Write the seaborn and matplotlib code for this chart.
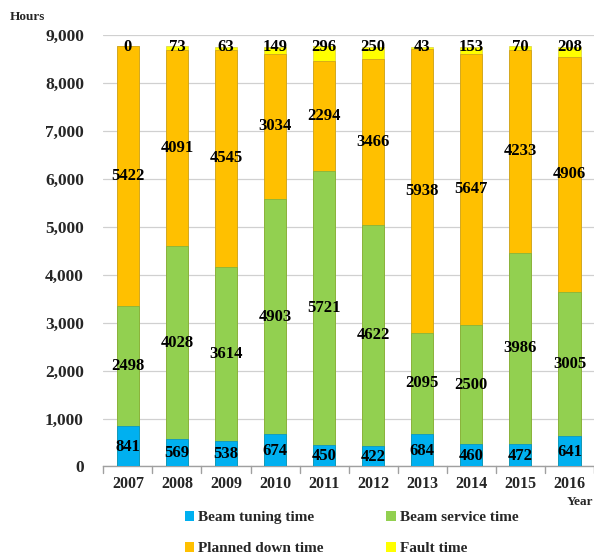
import matplotlib
matplotlib.use("Agg")
import matplotlib.pyplot as plt
import seaborn as sns
import numpy as np
import pandas as pd
from matplotlib.patches import Patch

years = ["2007", "2008", "2009", "2010", "2011", "2012", "2013", "2014", "2015", "2016"]
tuning = [841, 569, 538, 674, 450, 422, 684, 460, 472, 641]
service = [2498, 4028, 3614, 4903, 5721, 4622, 2095, 2500, 3986, 3005]
planned = [5422, 4091, 4545, 3034, 2294, 3466, 5938, 5647, 4233, 4906]
fault = [0, 73, 63, 149, 296, 250, 43, 153, 70, 208]
series_names = ["Beam tuning time", "Beam service time", "Planned down time", "Fault time"]
colors = ["#00B0F0", "#92D050", "#FFC000", "#FFFF00"]

sns.set_theme(style="white")
plt.rcParams['font.family'] = ['Liberation Serif', 'DejaVu Serif']
plt.rcParams['font.weight'] = 'bold'

fig = plt.figure(figsize=(5.94, 5.56), dpi=100)
ax = fig.add_axes([0.174, 0.161, 0.826, 0.776])

layers = [tuning, service, planned, fault]
cum = np.cumsum(np.array(layers), axis=0)
df = pd.DataFrame({"year": years})
for i in range(4):
    df[f"c{i}"] = cum[i]

edge_cols = ["#0090C8", "#7AB040", "#C89A20", "#D8D040"]
for i in range(3, -1, -1):
    sns.barplot(data=df, x="year", y=f"c{i}", color=colors[i], saturation=1,
                width=0.45, ax=ax, edgecolor=edge_cols[i],
                linewidth=0.5, zorder=3)

for i in range(4):
    bottoms = cum[i] - np.array(layers[i])
    for j, y in enumerate(years):
        mid = bottoms[j] + layers[i][j] / 2
        if i == 3:
            mid = cum[i][j] - 20
        if i == 0:
            mid = layers[i][j] / 2 - 10
        ax.text(j, mid, str(layers[i][j]), ha="center", va="center",
                fontsize=12, fontweight="bold", color="black", zorder=5)

ax.set_ylim(0, 9000)
ax.set_xlim(-0.5, 9.5)
ax.set_yticks(range(0, 9001, 1000))
ax.set_yticklabels([f"{v:,}" for v in range(0, 9001, 1000)], fontsize=12.5, fontweight="bold")
ax.set_xticks(range(10))
ax.set_xticklabels(years, fontsize=11.5, fontweight="bold")
ax.set_xlabel("")
ax.set_ylabel("")
ax.yaxis.grid(True, color="#D0D0D0", linewidth=0.9, zorder=0)
ax.set_axisbelow(True)
for s in ["left", "right", "top"]:
    ax.spines[s].set_visible(False)
ax.spines["bottom"].set_color("#A0A0A0")
ax.spines["bottom"].set_linewidth(1.0)
ax.tick_params(axis="y", length=0, pad=14)
ax.tick_params(axis="x", length=0, pad=7)
for k in range(11):
    ax.plot([k - 0.5, k - 0.5], [0, -130], color="#A0A0A0", linewidth=1.0,
            clip_on=False, zorder=4)

fig.text(0.017, 0.969, "Hours", fontsize=9.5, fontweight="bold", ha="left", va="center")
fig.text(0.998, 0.098, "Year", fontsize=9.5, fontweight="bold", ha="right", va="center")

handles = [Patch(facecolor=c, edgecolor="none") for c in colors]
order = [0, 2, 1, 3]
fig.legend([handles[k] for k in order], [series_names[k] for k in order],
           loc="center", bbox_to_anchor=(0.592, 0.041), ncol=2,
           frameon=False, prop={"family": "Liberation Serif", "weight": "bold", "size": 11},
           handlelength=0.6, handleheight=0.6, handletextpad=0.3, columnspacing=4.1,
           labelspacing=1.15, borderpad=0.1)

fig.savefig("out.png", dpi=100)
